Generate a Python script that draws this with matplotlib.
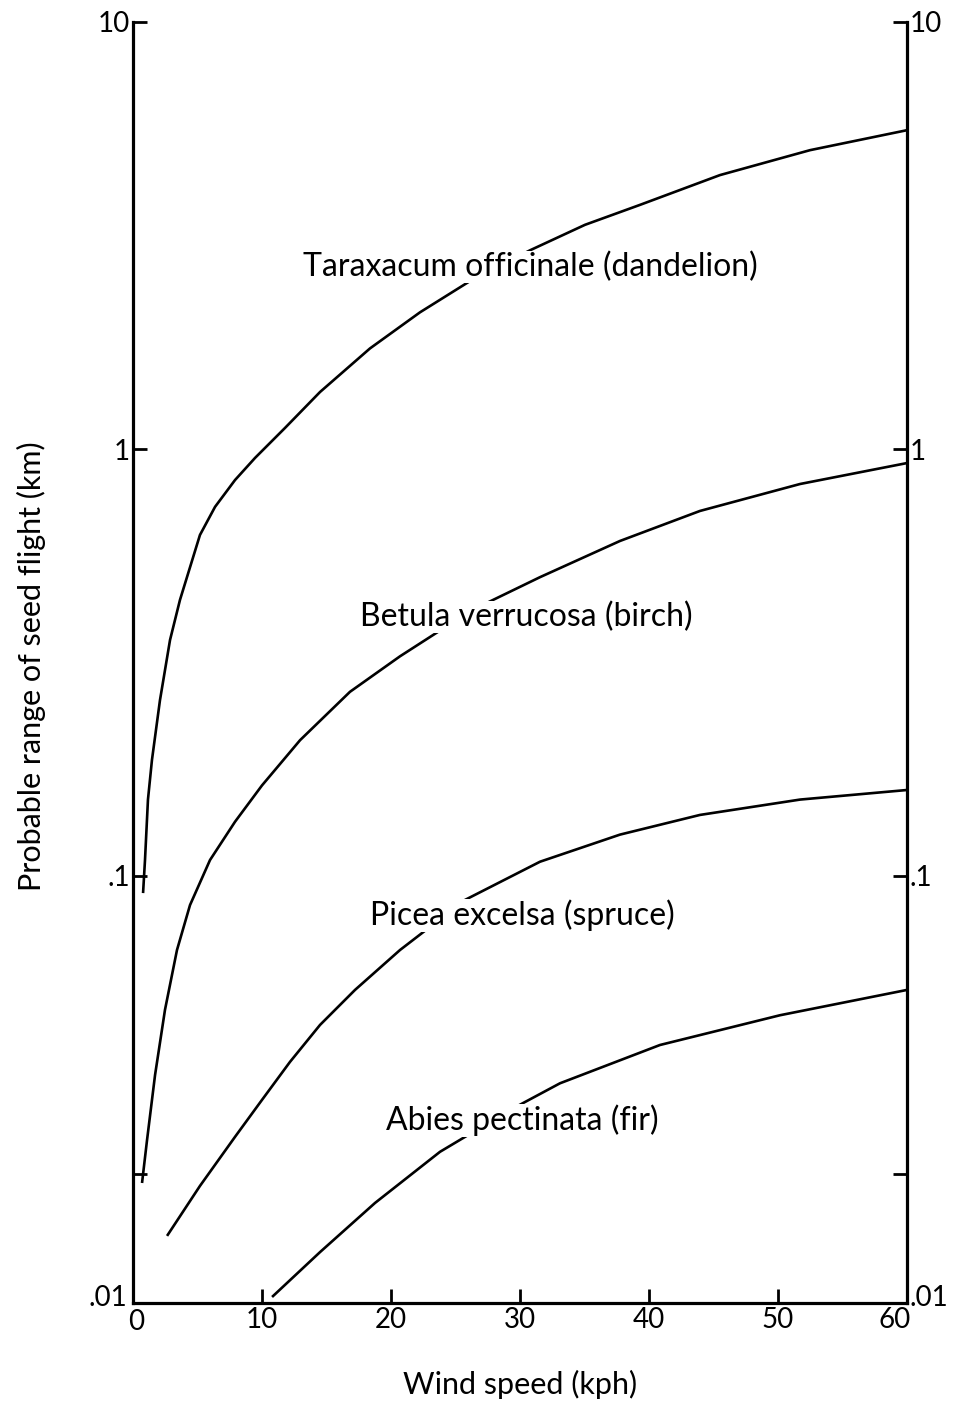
import matplotlib
matplotlib.use("Agg")
import matplotlib.pyplot as plt
import matplotlib.transforms as mtransforms
from matplotlib.ticker import FixedLocator, FixedFormatter, NullFormatter

# ---- data ----
dandelion_x = [0.78, 0.93, 1.16, 1.47, 2.09, 2.87, 3.64, 5.19, 6.36, 7.91, 9.46, 11.78,
               14.5, 18.37, 22.25, 26.28, 30.78, 35.04, 39.3, 45.5, 52.48, 60.0]
dandelion_y = [0.0912, 0.109, 0.151, 0.187, 0.258, 0.357, 0.443, 0.629, 0.732, 0.846, 0.953, 1.12,
               1.36, 1.72, 2.09, 2.49, 2.92, 3.35, 3.73, 4.38, 5.01, 5.58]

birch_x = [0.70, 1.09, 1.71, 2.48, 3.41, 4.42, 5.97, 7.91, 10.0, 12.95, 16.82, 20.7,
           23.64, 26.74, 31.55, 37.75, 43.95, 51.71, 60.0]
birch_y = [0.0191, 0.0241, 0.0342, 0.0486, 0.0671, 0.0855, 0.109, 0.134, 0.163, 0.208, 0.270, 0.327,
           0.373, 0.426, 0.501, 0.609, 0.716, 0.828, 0.927]

spruce_x = [2.64, 5.19, 7.91, 10.0, 12.17, 14.5, 17.21, 20.7, 25.74, 31.55, 37.75, 43.95, 51.71, 60.0]
spruce_y = [0.01436, 0.0188, 0.0245, 0.0299, 0.0367, 0.0448, 0.0541, 0.0671, 0.0879, 0.108,
            0.125, 0.139, 0.151, 0.159]

fir_x = [10.78, 14.5, 18.76, 23.8, 29.22, 33.1, 40.85, 50.16, 60.0]
fir_y = [0.01033, 0.01316, 0.01715, 0.0226, 0.0283, 0.0327, 0.0402, 0.0472, 0.0541]

species_labels = ["Taraxacum officinale (dandelion)",
                  "Betula verrucosa (birch)",
                  "Picea excelsa (spruce)",
                  "Abies pectinata (fir)"]

x_ticks = [0, 10, 20, 30, 40, 50, 60]
x_ticklabels = ["0", "10", "20", "30", "40", "50", "60"]
y_ticks = [0.01, 0.1, 1, 10]
y_ticklabels = [".01", ".1", "1", "10"]
y_minor_ticks = [0.02]

x_label = "Wind speed (kph)"
y_label = "Probable range of seed flight (km)"

# ---- figure ----
plt.rcParams['font.family'] = ['Lato', 'DejaVu Sans']
fig = plt.figure(figsize=(9.55, 14.06), dpi=100)
ax = fig.add_axes([133/955, 1 - 1303/1406, (907-133)/955, (1303-22)/1406])

lw = 1.9
for xs, ys in [(dandelion_x, dandelion_y), (birch_x, birch_y), (spruce_x, spruce_y), (fir_x, fir_y)]:
    ax.plot(xs, ys, color='black', lw=lw, solid_capstyle='butt', solid_joinstyle='round', zorder=2)

ax.set_yscale('log')
ax.set_xlim(0, 60)
ax.set_ylim(0.01, 10)

# label positions (data coords)
label_pos = [(30.8, 2.67), (30.5, 0.404), (30.2, 0.081), (30.2, 0.0268)]
for (lx, ly), txt in zip(label_pos, species_labels):
    ax.text(lx, ly, txt, ha='center', va='center', fontsize=23, zorder=3,
            bbox=dict(facecolor='white', edgecolor='none', pad=0.5))

for s in ['left', 'bottom', 'right']:
    ax.spines[s].set_linewidth(2.3)
ax.spines['top'].set_visible(False)

ax.xaxis.set_major_locator(FixedLocator(x_ticks))
ax.xaxis.set_major_formatter(FixedFormatter(x_ticklabels))
ax.yaxis.set_major_locator(FixedLocator(y_ticks))
ax.yaxis.set_major_formatter(FixedFormatter(y_ticklabels))
ax.yaxis.set_minor_locator(FixedLocator(y_minor_ticks))
ax.yaxis.set_minor_formatter(NullFormatter())

ax.tick_params(axis='x', which='major', direction='in', length=10, width=2,
               labelsize=20, pad=3)
ax.tick_params(axis='y', which='major', direction='in', length=10, width=2,
               labelsize=20, pad=2, left=True, right=True, labelleft=True, labelright=True)
ax.tick_params(axis='y', which='minor', direction='in', length=10, width=2,
               left=True, right=True)

# small offsets of corner tick labels, as in the reference
fig.canvas.draw()
yt = ax.yaxis.get_major_ticks()
yt[0].label1.set_transform(yt[0].label1.get_transform() +
                           mtransforms.ScaledTranslation(-3/100, 7/100, fig.dpi_scale_trans))
yt[0].label2.set_transform(yt[0].label2.get_transform() +
                           mtransforms.ScaledTranslation(0, 8/100, fig.dpi_scale_trans))
xt = ax.xaxis.get_major_ticks()
xt[0].label1.set_transform(xt[0].label1.get_transform() +
                           mtransforms.ScaledTranslation(3/100, -2/100, fig.dpi_scale_trans))
xt[-1].label1.set_transform(xt[-1].label1.get_transform() +
                            mtransforms.ScaledTranslation(-12/100, 0, fig.dpi_scale_trans))

ax.set_xlabel(x_label, fontsize=22)
ax.set_ylabel(y_label, fontsize=22)
ax.xaxis.set_label_coords(0.5, -0.052)
ax.yaxis.set_label_coords(-0.113, 0.497)

fig.savefig("out.png", dpi=100, facecolor='white')
